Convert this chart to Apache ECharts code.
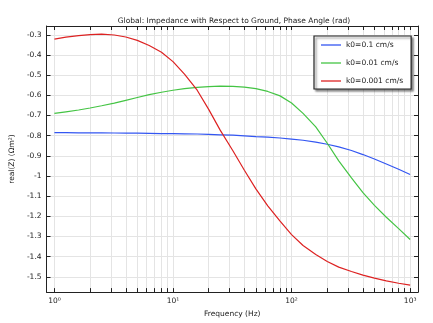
<!DOCTYPE html>
<html>
<head>
<meta charset="utf-8">
<script src="https://cdn.jsdelivr.net/npm/echarts@6/dist/echarts.min.js"></script>
<style>
  html, body { margin: 0; padding: 0; background: #fff; }
  #chart { width: 433px; height: 323px; }
</style>
</head>
<body>
<div id="chart"></div>
<script>
// Frequency sweep (Hz), ten points per decade
const frequency = [1, 1.25, 1.6, 2, 2.5, 3.2, 4, 5, 6.3, 8,
                   10, 12.5, 16, 20, 25, 32, 40, 50, 63, 80,
                   100, 125, 160, 200, 250, 320, 400, 500, 630, 800, 1000];

// Phase angle (rad) for each rate constant
const k0_01 = [-0.785, -0.785, -0.786, -0.786, -0.786, -0.787, -0.788, -0.788, -0.789, -0.790,
               -0.790, -0.791, -0.792, -0.794, -0.796, -0.798, -0.801, -0.805, -0.808, -0.812,
               -0.817, -0.823, -0.832, -0.843, -0.856, -0.874, -0.894, -0.916, -0.941, -0.967, -0.993];
const k0_001 = [-0.690, -0.682, -0.673, -0.663, -0.652, -0.639, -0.625, -0.611, -0.597, -0.585,
                -0.575, -0.567, -0.561, -0.557, -0.555, -0.556, -0.560, -0.567, -0.581, -0.603,
                -0.638, -0.690, -0.757, -0.838, -0.925, -1.010, -1.083, -1.146, -1.205, -1.261, -1.315];
const k0_0001 = [-0.322, -0.312, -0.304, -0.299, -0.297, -0.301, -0.311, -0.328, -0.353, -0.387,
                 -0.433, -0.495, -0.575, -0.670, -0.773, -0.875, -0.972, -1.064, -1.148, -1.224,
                 -1.291, -1.345, -1.389, -1.424, -1.452, -1.474, -1.492, -1.507, -1.520, -1.532, -1.541];

const seriesNames = ['k0=0.1 cm/s', 'k0=0.01 cm/s', 'k0=0.001 cm/s'];
const seriesColors = ['#3356f2', '#44c444', '#dd2222'];

// Axis ticks
const xMajorTicks = [1, 10, 100, 1000];
const xMinorTicks = [1, 2, 3, 4, 5, 6, 7, 8, 9, 10, 20, 30, 40, 50, 60, 70, 80, 90,
                     100, 200, 300, 400, 500, 600, 700, 800, 900, 1000];
const yTicks = [-1.5, -1.4, -1.3, -1.2, -1.1, -1, -0.9, -0.8, -0.7, -0.6, -0.5, -0.4, -0.3];

const sup = { '0': '\u2070', '1': '\u00B9', '2': '\u00B2', '3': '\u00B3' };
const FONT = 'DejaVu Sans';
const FS = 7.5;

const chart = echarts.init(document.getElementById('chart'), null, { renderer: 'canvas' });

function pairs(ys) { return frequency.map((f, i) => [f, ys[i]]); }

const xBase = {
  type: 'log', logBase: 10, min: 0.858, max: 1165,
  axisLine: { show: true, lineStyle: { color: '#222', width: 1 } },
  axisTick: { show: true, inside: true, length: 4, customValues: xMinorTicks, lineStyle: { color: '#222' } }
};
const yBase = {
  type: 'value', min: -1.576, max: -0.2565,
  axisLine: { show: true, lineStyle: { color: '#222', width: 1 } },
  axisTick: { show: true, inside: true, length: 4, customValues: yTicks, lineStyle: { color: '#222' } }
};

chart.setOption({
  animation: false,
  backgroundColor: '#fff',
  title: {
    text: 'Global: Impedance with Respect to Ground, Phase Angle (rad)',
    left: 229, top: 12, textAlign: 'center',
    textStyle: { fontFamily: FONT, fontSize: FS, fontWeight: 'normal', color: '#222' }
  },
  grid: { left: 40, right: 15, top: 26, bottom: 24, containLabel: false },
  legend: {
    data: seriesNames,
    orient: 'vertical',
    left: 314, top: 36,
    icon: 'rect',
    backgroundColor: '#fff',
    borderColor: '#222', borderWidth: 1.2,
    shadowColor: 'rgba(0,0,0,0.45)', shadowBlur: 2, shadowOffsetX: 2, shadowOffsetY: 2,
    padding: [5, 8, 4, 7],
    itemWidth: 20, itemHeight: 1.3, itemGap: 10,
    textStyle: { fontFamily: FONT, fontSize: FS, color: '#222' }
  },
  xAxis: [
    Object.assign({}, xBase, {
      position: 'bottom',
      name: 'Frequency (Hz)', nameLocation: 'middle', nameGap: 16,
      nameTextStyle: { fontFamily: FONT, fontSize: FS, color: '#222' },
      axisLabel: {
        show: true, margin: 5, customValues: xMajorTicks,
        fontFamily: FONT, fontSize: FS, color: '#222',
        formatter: v => '10' + sup[String(Math.round(Math.log10(v)))]
      },
      splitLine: { show: true, lineStyle: { color: '#e4e4e4', width: 1 } }
    }),
    Object.assign({}, xBase, {
      position: 'top',
      axisLabel: { show: false },
      splitLine: { show: false }
    })
  ],
  yAxis: [
    Object.assign({}, yBase, {
      position: 'left',
      name: 'real(Z) (\u03A9m\u00B2)', nameLocation: 'middle', nameGap: 30,
      nameTextStyle: { fontFamily: FONT, fontSize: FS, color: '#222' },
      axisLabel: {
        show: true, margin: 5, customValues: yTicks,
        fontFamily: FONT, fontSize: FS, color: '#222'
      },
      splitLine: { show: true, lineStyle: { color: '#e4e4e4', width: 1 } }
    }),
    Object.assign({}, yBase, {
      position: 'right',
      axisLabel: { show: false },
      splitLine: { show: false }
    })
  ],
  series: [k0_01, k0_001, k0_0001].map((ys, i) => ({
    name: seriesNames[i],
    type: 'line',
    xAxisIndex: 0, yAxisIndex: 0,
    data: pairs(ys),
    smooth: false,
    showSymbol: false,
    symbol: 'none',
    lineStyle: { color: seriesColors[i], width: 1.2 },
    itemStyle: { color: seriesColors[i] }
  }))
});
</script>
</body>
</html>
